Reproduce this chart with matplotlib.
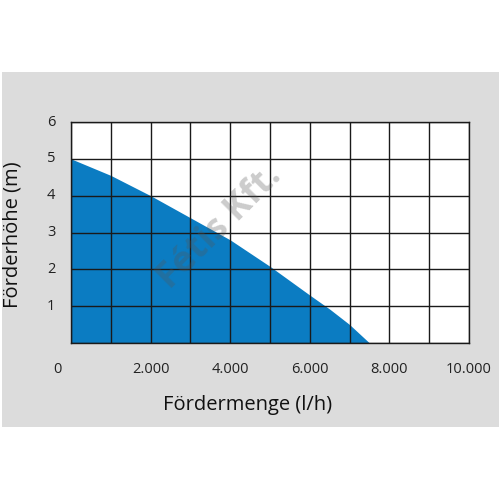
import matplotlib
matplotlib.use("Agg")
import matplotlib.pyplot as plt
from matplotlib.patches import Rectangle

# Kennlinie der Pumpe
flow = [0, 1000, 2000, 3000, 4000, 5000, 6000, 6500, 7000, 7250, 7500]
head = [5.0, 4.55, 4.0, 3.4, 2.8, 2.08, 1.3, 0.92, 0.5, 0.25, 0.0]

x_ticks = [0, 2000, 4000, 6000, 8000, 10000]
x_labels = ["0", "2.000", "4.000", "6.000", "8.000", "10.000"]
y_ticks = [1, 2, 3, 4, 5, 6]

plt.rcParams["font.family"] = ["Open Sans", "DejaVu Sans"]

fig = plt.figure(figsize=(5, 5), dpi=100)
fig.patch.set_facecolor("white")
bg = Rectangle((0.004, 0.146), 0.994, 0.71, transform=fig.transFigure,
               facecolor="#dcdcdc", edgecolor="none", zorder=-5)
fig.add_artist(bg)

ax = fig.add_axes([0.142, 0.314, 0.796, 0.442])
ax.set_zorder(2)
ax.set_facecolor("white")
ax.fill_between(flow, head, 0, color="#0b7cc2", linewidth=0, zorder=1)

ax.set_xlim(0, 10000)
ax.set_ylim(0, 6)
ax.set_xticks(range(0, 10001, 1000))
ax.set_yticks(range(0, 7))
ax.grid(True, color="#1a1a1a", linewidth=1.0, zorder=2)
ax.set_axisbelow(False)
for s in ax.spines.values():
    s.set_color("#1a1a1a")
    s.set_linewidth(1.0)
ax.tick_params(length=0, labelbottom=False, labelleft=False)

# Achsenbeschriftungen als Text
for v, lab in zip(x_ticks, x_labels):
    xp = v if v > 0 else -330
    ax.text(xp, -0.73, lab, ha="center", va="center", fontsize=10.5, color="#222222",
            clip_on=False)
for v in y_ticks:
    ax.text(-500, v, str(v), ha="center", va="center", fontsize=10.5, color="#222222",
            clip_on=False)

fig.text(0.495, 0.19, "Fördermenge (l/h)", ha="center", va="center", fontsize=14.5, color="#111111")
fig.text(0.026, 0.53, "Förderhöhe (m)", ha="center", va="center", rotation=90,
         fontsize=14.5, color="#111111")

# Wasserzeichen
ax.text(3750, 3.15, "Fétis Kft.", ha="center", va="center", rotation=45, fontsize=26,
        fontweight="bold", color="#555555", alpha=0.3, zorder=3)

fig.savefig("out.png", dpi=100)
